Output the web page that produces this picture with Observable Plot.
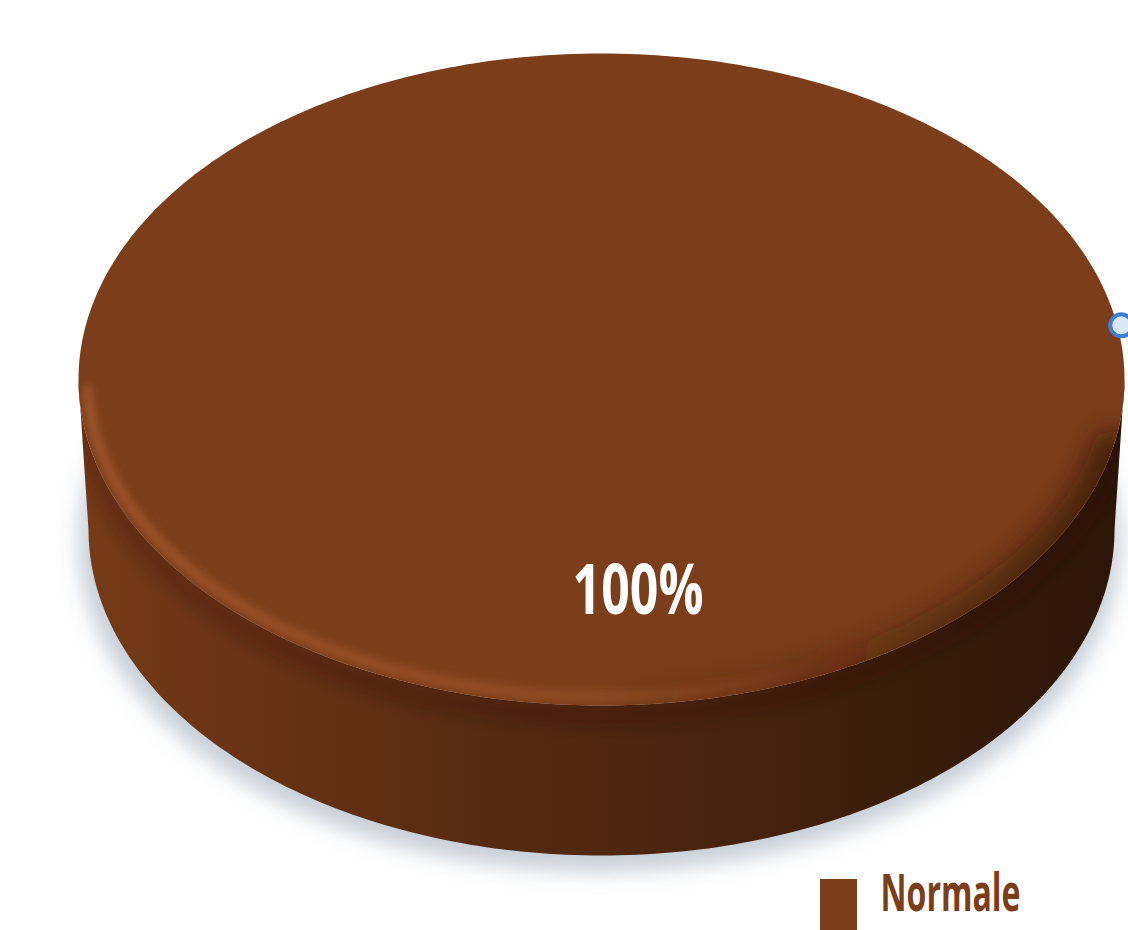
<!DOCTYPE html>
<html><head><meta charset="utf-8">
<script src="https://cdn.jsdelivr.net/npm/d3@7"></script>
<script src="https://cdn.jsdelivr.net/npm/@observablehq/plot@0.6"></script>
<style>
html,body{margin:0;padding:0;background:#fff;overflow:hidden;}
#chart svg{display:block;}
</style></head><body><div id="chart"></div>
<script>
// ---- data ----
const categories = ["Normale"];
const values = [100];
const sliceColors = ["#7B3D1A"];
const handleAngles = [-0.167];

// ---- layout ----
const W = 1128, H = 930;
const cx = 601, cy = 379, rx = 523, ry = 326, depth = 150, rxB = 513, ryB = 326;
const total = d3.sum(values);
const fmt = d3.format(".0%");
const pie = d3.pie().sort(null)(values);
const slices = pie.map((p, i) => ({
  category: categories[i], value: values[i], color: sliceColors[i],
  t0: p.startAngle - Math.PI / 2, t1: p.endAngle - Math.PI / 2,
  label: fmt(values[i] / total)
}));

function arcPts(t0, t1, ox, oy, ax, ay, n) {
  const pts = [];
  for (let i = 0; i <= n; i++) {
    const t = t0 + (t1 - t0) * i / n;
    pts.push({x: ox + ax * Math.cos(t), y: oy + ay * Math.sin(t)});
  }
  return pts;
}

const topPts = [], sidePts = [];
for (const s of slices) {
  const full = s.t1 - s.t0 >= 2 * Math.PI - 1e-9;
  const tp = full ? arcPts(s.t0, s.t1, cx, cy, rx, ry, 360)
    : [{x: cx, y: cy}, ...arcPts(s.t0, s.t1, cx, cy, rx, ry, 180)];
  tp.forEach(d => topPts.push({...d, color: s.color}));
  for (let k = -1; k <= 1; k++) {
    const a = Math.max(s.t0, 2 * Math.PI * k), b = Math.min(s.t1, 2 * Math.PI * k + Math.PI);
    if (b > a) {
      arcPts(a, b, cx, cy, rx, ry, 180).concat(arcPts(b, a, cx, cy + depth, rxB, ryB, 180))
        .forEach(d => sidePts.push({...d, color: s.color}));
    }
  }
}
const shadowPts = arcPts(0, 2 * Math.PI, cx - 2, cy + depth + 12, rxB + 8, ryB + 4, 360);
const sideShadePts = arcPts(Math.PI, 0, cx, cy + 10, rx, ry, 240);
const bevelPts = arcPts(Math.PI * 0.99, Math.PI * 0.22, cx, cy, rx - 9, ry - 9, 240);
const rightDarkPts = arcPts(Math.PI * 0.55, Math.PI * 0.07, cx, cy, rx, ry, 200);

const labelData = slices.map(s => ({
  text: s.label,
  x: cx + 0.07 * rx,
  y: cy + 0.65 * ry
}));
const legendData = slices.map((s, i) => ({
  category: s.category, color: s.color,
  x1: 820, x2: 857, y1: 879 + i * 60, y2: 879 + i * 60 + 60,
  tx: 880, ty: 894 + i * 60
}));
const handleData = handleAngles.map(t => ({x: cx + rx * Math.cos(t) + 4, y: cy + ry * Math.sin(t)}));

function defs() {
  const d = d3.create("svg:defs");
  const sg = d.append("linearGradient").attr("id", "sideGrad").attr("gradientUnits", "userSpaceOnUse")
    .attr("x1", cx - rx).attr("x2", cx + rx).attr("y1", 0).attr("y2", 0);
  [[0, "#763b18"], [0.15, "#6a3315"], [0.4, "#552a11"], [0.65, "#45220d"], [0.85, "#361a09"], [1, "#2c1507"]]
    .forEach(([o, c]) => sg.append("stop").attr("offset", o).attr("stop-color", c));
  const bg = d.append("linearGradient").attr("id", "bevelGrad").attr("gradientUnits", "userSpaceOnUse")
    .attr("x1", cx - rx).attr("x2", cx + 0.6 * rx).attr("y1", 0).attr("y2", 0);
  [[0, "#a0572c", 0.9], [0.5, "#9c5329", 0.85], [0.8, "#96522a", 0.4], [1, "#96522a", 0]]
    .forEach(([o, c, op]) => bg.append("stop").attr("offset", o).attr("stop-color", c).attr("stop-opacity", op));
  const rg = d.append("linearGradient").attr("id", "rightGrad").attr("gradientUnits", "userSpaceOnUse")
    .attr("x1", cx).attr("x2", cx + rx).attr("y1", 0).attr("y2", 0);
  [[0, "#2a1206", 0], [0.5, "#2a1206", 0.3], [1, "#2a1206", 0.7]]
    .forEach(([o, c, op]) => rg.append("stop").attr("offset", o).attr("stop-color", c).attr("stop-opacity", op));
  const mk = (id, sd) => d.append("filter").attr("id", id).attr("x", "-20%").attr("y", "-20%")
    .attr("width", "140%").attr("height", "140%").append("feGaussianBlur").attr("stdDeviation", sd);
  mk("fShadow", 10); mk("fBlur4", 4); mk("fBlur8", 8); mk("fBlur12", 12);
  return d.node();
}

const svg = Plot.plot({
  width: W, height: H, margin: 0,
  x: {domain: [0, W], range: [0, W], axis: null},
  y: {domain: [0, H], range: [0, H], axis: null},
  style: {background: "white", overflow: "hidden"},
  marks: [
    defs,
    Plot.line(shadowPts, {x: "x", y: "y", fill: "#a3afbd", fillOpacity: 0.6, stroke: "none", curve: "linear-closed"}),
    Plot.line(sidePts, {x: "x", y: "y", fill: "url(#sideGrad)", stroke: "none", curve: "linear-closed"}),
    Plot.line(sideShadePts, {x: "x", y: "y", stroke: "#2a1206", strokeOpacity: 0.22, strokeWidth: 22}),
    Plot.line(topPts, {x: "x", y: "y", fill: sliceColors[0], stroke: "none", curve: "linear-closed"}),
    Plot.line(bevelPts, {x: "x", y: "y", stroke: "url(#bevelGrad)", strokeWidth: 10}),
    Plot.line(rightDarkPts, {x: "x", y: "y", stroke: "url(#rightGrad)", strokeWidth: 40}),
    Plot.text(labelData, {x: "x", y: "y", text: "text", fill: "white", fontSize: 70, fontWeight: "bold",
      fontFamily: "'Open Sans', sans-serif", textAnchor: "middle"}),
    Plot.rect(legendData, {x1: "x1", x2: "x2", y1: "y1", y2: "y2", fill: "color"}),
    Plot.text(legendData, {x: "tx", y: "ty", text: "category", fill: "#7B3D1A", fontSize: 52, fontWeight: "bold",
      fontFamily: "'Open Sans', sans-serif", textAnchor: "start"}),
    Plot.dot(handleData, {x: "x", y: "y", r: 11, fill: "#d8e7fa", stroke: "#3b7dd8", strokeWidth: 4})
  ]
});

// styling touches: blur filters, clipping of shading to the disc faces, text widths
const defsEl = svg.querySelector("defs");
const lines = svg.querySelectorAll(':scope > g[aria-label="line"]');
function addClip(id, srcGroup) {
  const cp = document.createElementNS("http://www.w3.org/2000/svg", "clipPath");
  cp.setAttribute("id", id);
  const p = document.createElementNS("http://www.w3.org/2000/svg", "path");
  p.setAttribute("d", srcGroup.querySelector("path").getAttribute("d"));
  cp.appendChild(p);
  defsEl.appendChild(cp);
}
addClip("clipSide", lines[1]);
addClip("clipTop", lines[3]);
lines[0].setAttribute("filter", "url(#fShadow)");
lines[2].setAttribute("filter", "url(#fBlur8)");
lines[2].setAttribute("clip-path", "url(#clipSide)");
lines[4].setAttribute("filter", "url(#fBlur4)");
lines[4].setAttribute("clip-path", "url(#clipTop)");
lines[5].setAttribute("filter", "url(#fBlur12)");
lines[5].setAttribute("clip-path", "url(#clipTop)");
const texts = svg.querySelectorAll(':scope > g[aria-label="text"]');
texts[0].querySelectorAll("text").forEach(t => { t.setAttribute("textLength", 131); t.setAttribute("lengthAdjust", "spacingAndGlyphs"); });
texts[1].querySelectorAll("text").forEach(t => { t.setAttribute("textLength", 140); t.setAttribute("lengthAdjust", "spacingAndGlyphs"); });
document.getElementById("chart").appendChild(svg);
</script></body></html>
